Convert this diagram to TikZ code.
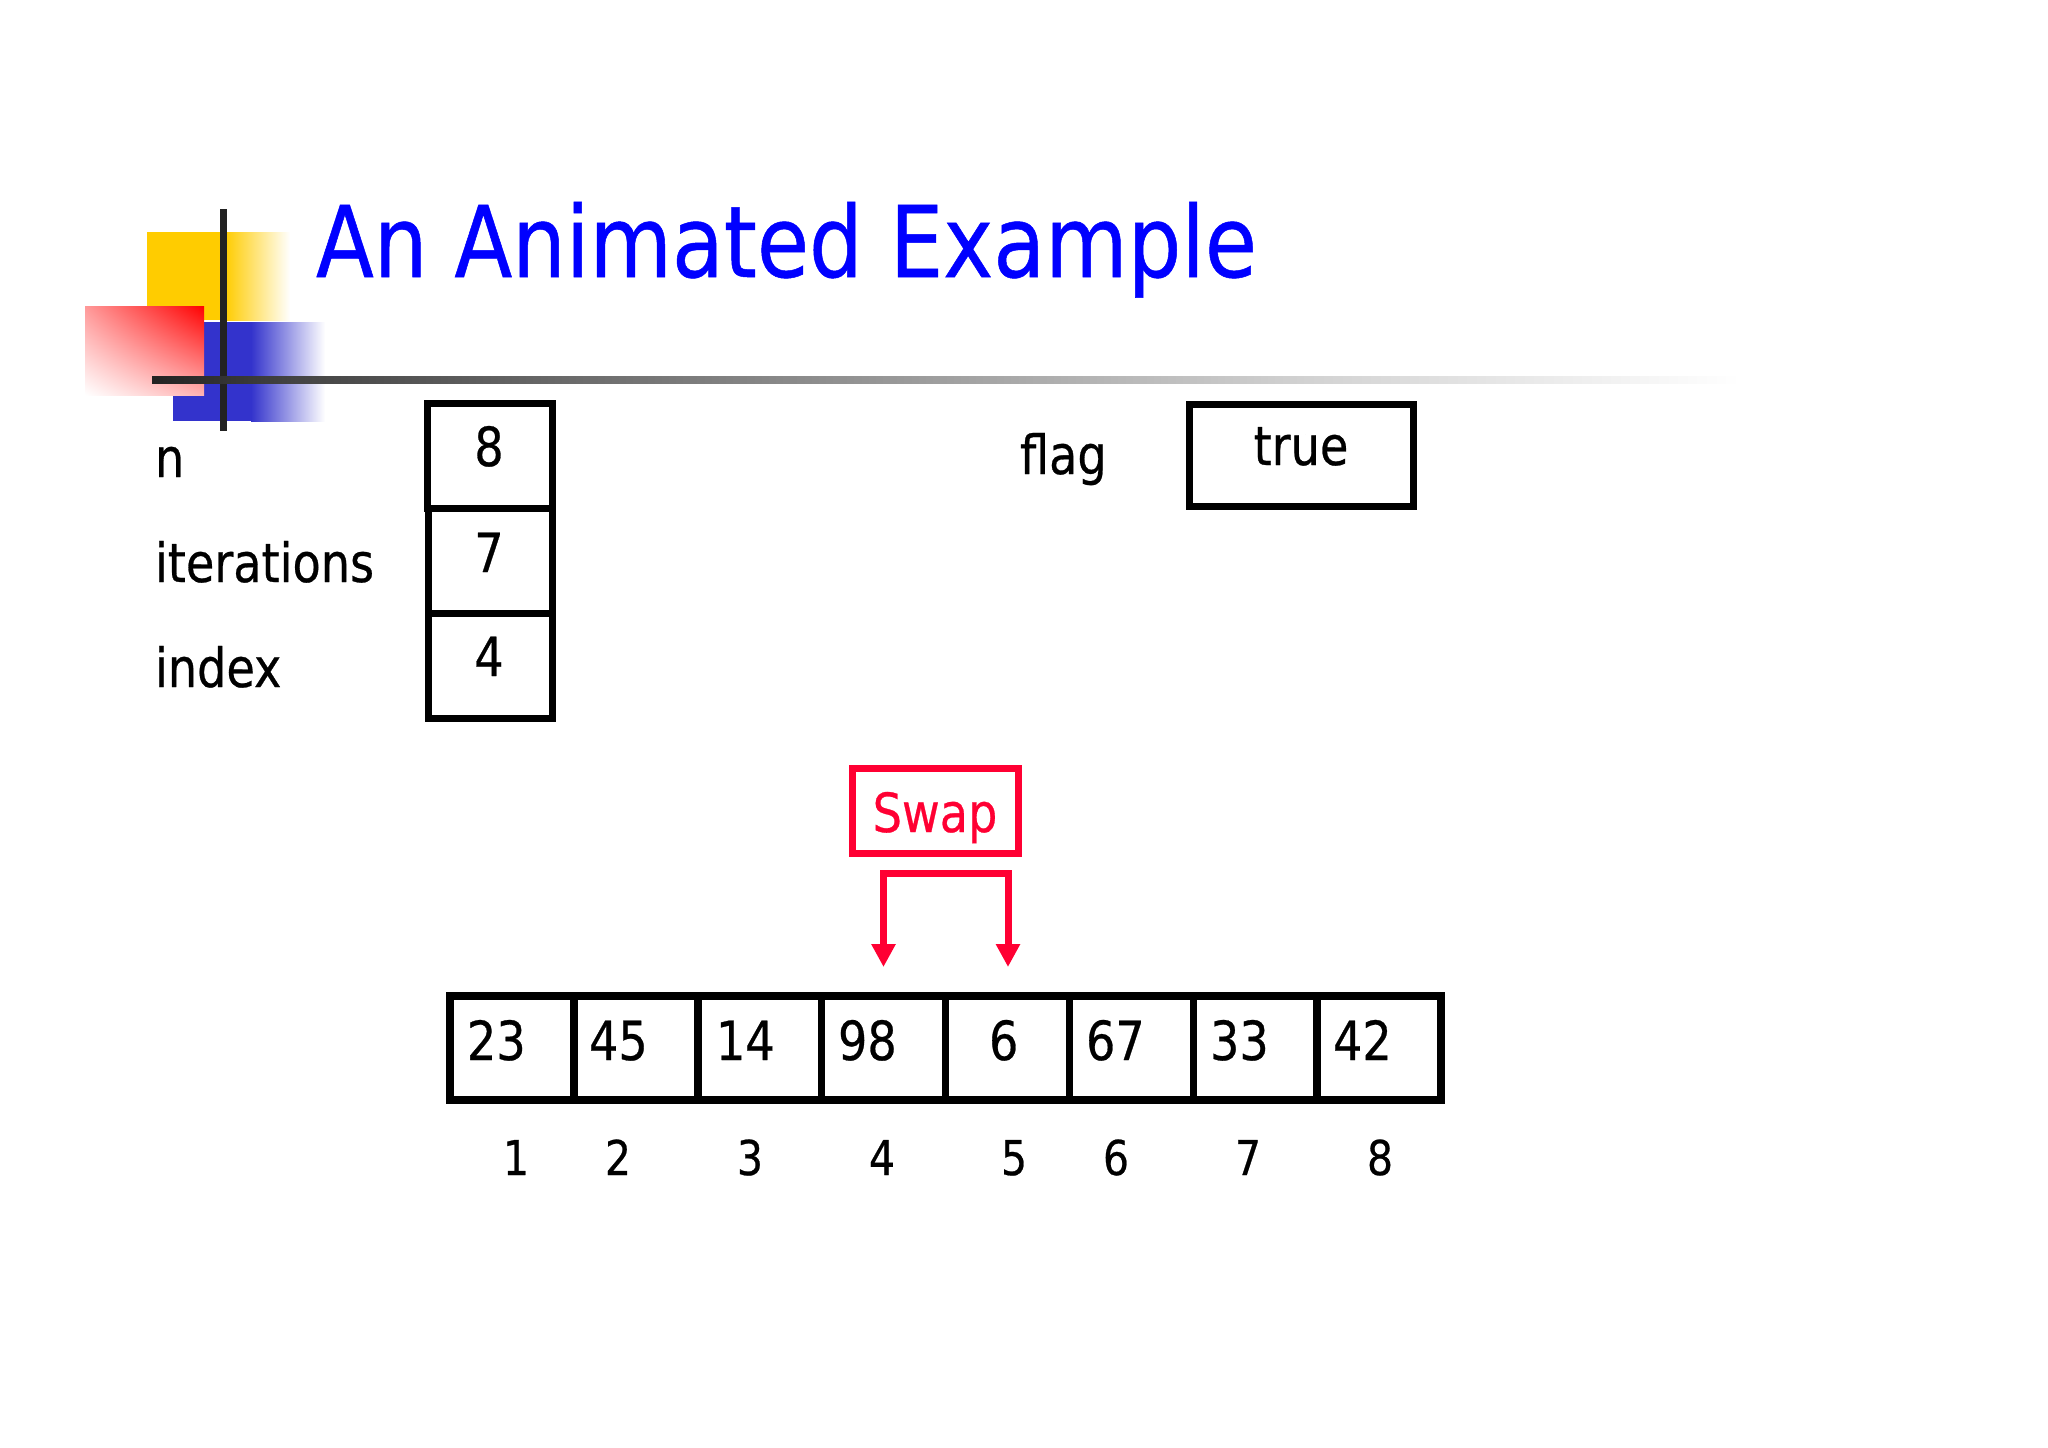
\documentclass[tikz,border=0pt]{standalone}
\usepackage{fontspec}
\setmainfont{DejaVu Sans}[FakeStretch=0.855, FakeBold=0.5]
\usetikzlibrary{arrows.meta,shadings}
\definecolor{ttlblue}{RGB}{0,0,255}
\definecolor{swapred}{RGB}{255,0,51}
\definecolor{logoyel}{RGB}{255,204,0}
\definecolor{logoblue}{RGB}{51,51,204}
\definecolor{logored}{RGB}{255,0,0}
\definecolor{barline}{RGB}{34,34,34}
\begin{document}
\begin{tikzpicture}[x=1pt,y=-1pt,
  every node/.style={inner sep=0pt, outer sep=0pt},
  ttl/.style={font=\fontsize{99}{99}\selectfont, text=ttlblue, anchor=base west},
  txt/.style={font=\fontsize{54}{60}\selectfont, anchor=base west},
  ctxt/.style={font=\fontsize{54}{60}\selectfont, anchor=base},
  idx/.style={font=\fontsize{48}{54}\selectfont, anchor=base},
  varbox/.style={draw=black, line width=7pt, minimum width=124pt, minimum height=105pt},
  cellbox/.style={draw=black, line width=7.5pt, minimum width=123.875pt, minimum height=104pt},
  swapbox/.style={draw=swapred, line width=7pt, minimum width=166pt, minimum height=85pt},
  swaparrow/.style={draw=swapred, line width=7pt, line join=miter,
     {Triangle[length=23pt,width=23pt]}-{Triangle[length=23pt,width=23pt]}}
]
% canvas
\path[fill=white, use as bounding box] (0,0) rectangle (2048,1448);

% logo
\fill[logoyel] (147,232) rectangle (226,320);
\shade[left color=logoyel, right color=white] (225,232) rectangle (290,320);
\fill[logoblue] (173,322) rectangle (252,421);
\shade[left color=logoblue, right color=white] (251,322) rectangle (325,421);
\shade[upper right=logored, upper left=logored!40, lower right=logored!30, lower left=white] (85,306) rectangle (204,395);
\draw[barline, line width=7pt] (223,209) -- (223,431);
\shade[left color=barline, right color=black!73] (152,376.5) rectangle (300.5,383.5);
\shade[left color=black!73, right color=black!18] (300,376.5) rectangle (1300.5,383.5);
\shade[left color=black!18, right color=white] (1300,376.5) rectangle (1740,383.5);

% title
\node[ttl] (title) at (316,277) {An Animated Example};

% variables
\node[txt] (ln) at (155,477) {n};
\node[txt] (lit) at (155,582) {iterations};
\node[txt] (lix) at (155,687) {index};
\node[varbox, minimum width=125pt] (bn) at (489.5,455.5) {};
\node[varbox] (bit) at (490,560.5) {};
\node[varbox] (bix) at (490,665.5) {};
\node[ctxt] (vn) at (489,466) {8};
\node[ctxt] (vit) at (489,572) {7};
\node[ctxt] (vix) at (489,676) {4};

\node[txt] (lflag) at (1020,474) {flag};
\node[varbox, minimum width=224pt, minimum height=102pt] (bflag) at (1301,455) {};
\node[ctxt] (vflag) at (1301,465) {true};

% swap
\node[swapbox] (swap) at (935.5,811) {};
\node[ctxt, text=swapred] (swaptxt) at (935,832) {Swap};
\coordinate (tipL) at (883.5,967);
\coordinate (tipR) at (1008,967);
\coordinate (brk) at (945.5,873);
\draw[swaparrow] (tipL) |- (brk) -| (tipR);

% array
\foreach \i in {1,...,8} {
  \node[cellbox] (c\i) at ({450+(\i-0.5)*123.875},1048) {};
}
\node[txt] (v1) at (467,1060) {23};
\node[txt] (v2) at (589,1060) {45};
\node[txt] (v3) at (716,1060) {14};
\node[txt] (v4) at (838,1060) {98};
\node[txt] (v5) at (989,1060) {6};
\node[txt] (v6) at (1086,1060) {67};
\node[txt] (v7) at (1210,1060) {33};
\node[txt] (v8) at (1333,1060) {42};

\node[idx] (i1) at (516,1175) {1};
\node[idx] (i2) at (618,1175) {2};
\node[idx] (i3) at (750,1175) {3};
\node[idx] (i4) at (882,1175) {4};
\node[idx] (i5) at (1014,1175) {5};
\node[idx] (i6) at (1116,1175) {6};
\node[idx] (i7) at (1248,1175) {7};
\node[idx] (i8) at (1380,1175) {8};
\end{tikzpicture}
\end{document}
